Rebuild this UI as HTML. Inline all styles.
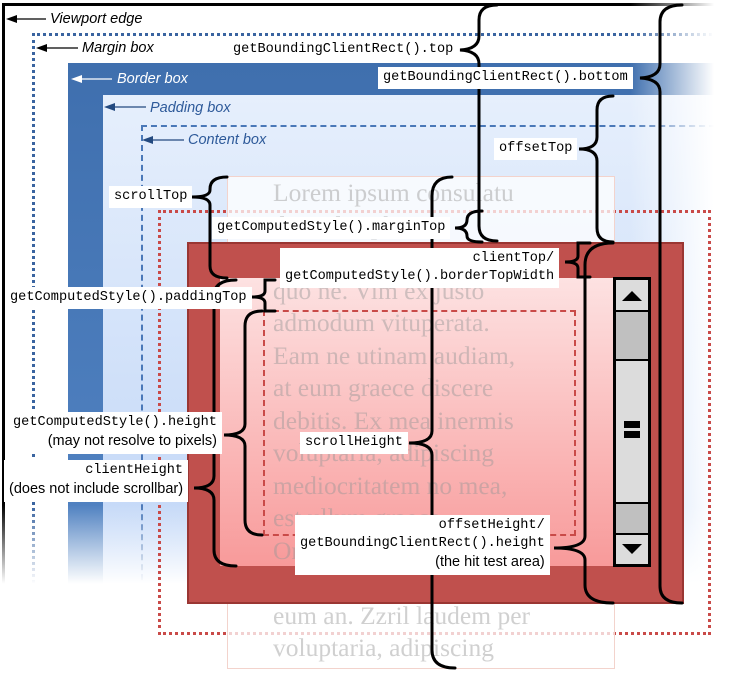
<!DOCTYPE html>
<html style="overflow:hidden;width:735px;height:680px"><head><meta charset="utf-8"><style>
*{margin:0;padding:0;box-sizing:border-box}
body{width:735px;height:680px;position:relative;overflow:hidden;background:#fff;font-family:"Liberation Sans",sans-serif}
.a{position:absolute}
.lbl{position:absolute;background:#fff;font-family:"Liberation Mono",monospace;font-size:13.6px;color:#000;padding:2px 5px;line-height:18px;white-space:pre}
.sans{font-family:"Liberation Sans",sans-serif;font-size:14.5px}
.it{position:absolute;font-style:italic;font-size:14.5px;white-space:nowrap}
.txt{position:absolute;left:273px;font-family:"Liberation Serif",serif;font-size:25.5px;color:rgba(150,150,150,.45);white-space:nowrap;line-height:32.5px}
</style></head><body>
<div class="a" style="left:2px;top:3px;width:733px;height:677px;border-left:3px solid #000;border-top:3px solid #000"></div>
<div class="a" style="left:32px;top:33px;width:703px;height:647px;border-left:3px dotted #3a64a0;border-top:3px dotted #3a64a0"></div>
<div class="a" style="left:68px;top:63px;width:667px;height:617px;background:linear-gradient(180deg,#3f6fae,#5688c8)"></div>
<div class="a" style="left:103px;top:95px;width:632px;height:585px;background:linear-gradient(180deg,#e6effc,#b9d1f6)"></div>
<div class="a" style="left:141px;top:125px;width:594px;height:555px;border-left:2px dashed #4a78b8;border-top:2px dashed #4a78b8"></div>
<div class="a" style="left:630px;top:0;width:105px;height:680px;background:linear-gradient(90deg,rgba(255,255,255,0),#fff 80%)"></div>
<div class="a" style="left:0;top:505px;width:735px;height:175px;background:linear-gradient(180deg,rgba(255,255,255,0),#fff 45%)"></div>
<div class="it" style="left:50px;top:11px;color:#000">Viewport edge</div>
<div class="it" style="left:82px;top:40px;color:#000">Margin box</div>
<div class="it" style="left:117px;top:71px;color:#fff">Border box</div>
<div class="it" style="left:150px;top:100px;color:#2e5a9a">Padding box</div>
<div class="it" style="left:188px;top:132px;color:#2e5a9a">Content box</div>
<svg class="a" style="left:0;top:0" width="735" height="680">
<g stroke-width="1.3">
<line x1="10" y1="19" x2="46" y2="19" stroke="#000"/><polygon points="6,19 17,15 17,23" fill="#000"/>
<line x1="40" y1="48" x2="78" y2="48" stroke="#000"/><polygon points="36,48 47,44 47,52" fill="#000"/>
<line x1="75" y1="79" x2="112" y2="79" stroke="#fff"/><polygon points="71,79 82,75 82,83" fill="#fff"/>
<line x1="108" y1="107" x2="146" y2="107" stroke="#244a80"/><polygon points="104,107 115,103 115,111" fill="#244a80"/>
<line x1="146" y1="140" x2="184" y2="140" stroke="#244a80"/><polygon points="142,140 153,136 153,144" fill="#244a80"/>
</g></svg>
<div class="a" style="left:158px;top:210px;width:553px;height:425px;border:3px dotted #c94a48"></div>
<div class="a" style="left:227px;top:176px;width:388px;height:493px;background:rgba(255,255,255,.75);border:1px solid #f3d3cc"></div>
<div class="a" style="left:187px;top:242px;width:497px;height:362px;background:#c0504d;border:2px solid #9a3633"></div>
<div class="a" style="left:220px;top:278px;width:393px;height:288px;background:linear-gradient(180deg,#fde2e2,#f89a9a)"></div>
<div class="a" style="left:263px;top:310px;width:313px;height:226px;border:2px dashed #c94a48"></div>
<div class="txt" style="top:177px">Lorem ipsum consulatu<br>duo ad sophia ei<br>clita nominati<br>quo ne. Vim ex justo<br>admodum vituperata.<br>Eam ne utinam audiam,<br>at eum graece discere<br>debitis. Ex mea inermis<br>voluptaria, adipiscing<br>mediocritatem no mea,<br>est ullum graeco<br>Omnes iudico te<br>vivendo dolor<br>eum an. Zzril laudem per<br>voluptaria, adipiscing</div>
<div class="a" style="left:187px;top:242px;width:497px;height:36px;background:#c0504d;border:2px solid #9a3633;border-bottom:0"></div>
<div class="a" style="left:187px;top:566px;width:497px;height:38px;background:#c0504d;border:2px solid #9a3633;border-top:0"></div>
<div class="a" style="left:187px;top:278px;width:33px;height:288px;background:#c0504d;border-left:2px solid #9a3633"></div>
<div class="a" style="left:613px;top:278px;width:71px;height:288px;background:#c0504d;border-right:2px solid #9a3633"></div>
<div class="a" style="left:613px;top:277px;width:38px;height:290px;background:#000"></div>
<div class="a" style="left:616px;top:280px;width:32px;height:30px;background:#dcdcdc"></div>
<div class="a" style="left:616px;top:312px;width:32px;height:47px;background:#c0c0c0"></div>
<div class="a" style="left:616px;top:361px;width:32px;height:141px;background:#dcdcdc"></div>
<div class="a" style="left:616px;top:504px;width:32px;height:29px;background:#c0c0c0"></div>
<div class="a" style="left:616px;top:535px;width:32px;height:29px;background:#dcdcdc"></div>
<svg class="a" style="left:613px;top:277px" width="38" height="290">
<polygon points="9,24 19,14 29,24" fill="#000"/>
<polygon points="9,267 19,277 29,267" fill="#000"/>
<rect x="11" y="144" width="16" height="7" fill="#000"/><rect x="11" y="154" width="16" height="7" fill="#000"/>
</svg>
<svg class="a" style="left:0;top:0" width="735" height="680">
<g fill="none" stroke="#000" stroke-width="3" stroke-linecap="round">
<path d="M497,5 Q479,5 479,20 L479,36 Q479,49 460,50 Q479,51 479,64 L479,226 Q479,241 497,241"/>
<path d="M682,5 Q660,5 660,22 L660,64 Q660,77 640,78 Q660,79 660,92 L660,586 Q660,603 682,603"/>
<path d="M613,96 Q597,96 597,110 L597,137 Q597,149 579,149 Q597,149 597,161 L597,228 Q597,242 613,242"/>
<path d="M227,177 Q210,177 210,189 L210,190 Q210,197 192,197 Q210,197 210,205 L210,266 Q210,278 227,278"/>
<path d="M482,211 Q467,211 467,220 Q467,228 455,228 Q467,228 467,236 Q467,242 482,242"/>
<path d="M590,243 L578,243 L578,256 Q578,262 565,262 Q578,262 578,268 L578,277 L590,277"/>
<path d="M236,280 Q214,280 214,296 L214,476 Q214,488 194,488 Q214,488 214,500 L214,550 Q214,566 236,566"/>
<path d="M275,280 L265,280 L265,291 Q265,297 252,297 Q265,297 265,303 L265,311 L275,311"/>
<path d="M262,311 Q245,311 245,326 L245,424 Q245,435 224,435 Q245,435 245,446 L245,520 Q245,535 262,535"/>
<path d="M452,177 Q432,177 432,196 L432,431 Q432,443 409,443 Q432,443 432,455 L432,650 Q432,668 455,668"/>
<path d="M613,243 Q585,243 585,265 L585,536 Q585,548 554,548 Q585,548 585,560 L585,585 Q585,603 613,603"/>
</g></svg>
<div class="lbl" style="left:228px;top:39px">getBoundingClientRect().top</div>
<div class="lbl" style="left:378px;top:67px">getBoundingClientRect().bottom</div>
<div class="lbl" style="left:494px;top:138px">offsetTop</div>
<div class="lbl" style="left:109px;top:186px">scrollTop</div>
<div class="lbl" style="left:212px;top:217px">getComputedStyle().marginTop</div>
<div class="lbl" style="left:280px;top:248px;text-align:right">clientTop/
getComputedStyle().borderTopWidth</div>
<div class="lbl" style="left:5px;top:287px">getComputedStyle().paddingTop</div>
<div class="lbl" style="left:8px;top:412px;text-align:right">getComputedStyle().height
<span class="sans">(may not resolve to pixels)</span></div>
<div class="lbl" style="left:4px;top:460px;text-align:right">clientHeight
<span class="sans">(does not include scrollbar)</span></div>
<div class="lbl" style="left:300px;top:432px">scrollHeight</div>
<div class="lbl" style="left:295px;top:515px;text-align:right">offsetHeight/
getBoundingClientRect().height
<span class="sans">(the hit test area)</span></div>
</body></html>
